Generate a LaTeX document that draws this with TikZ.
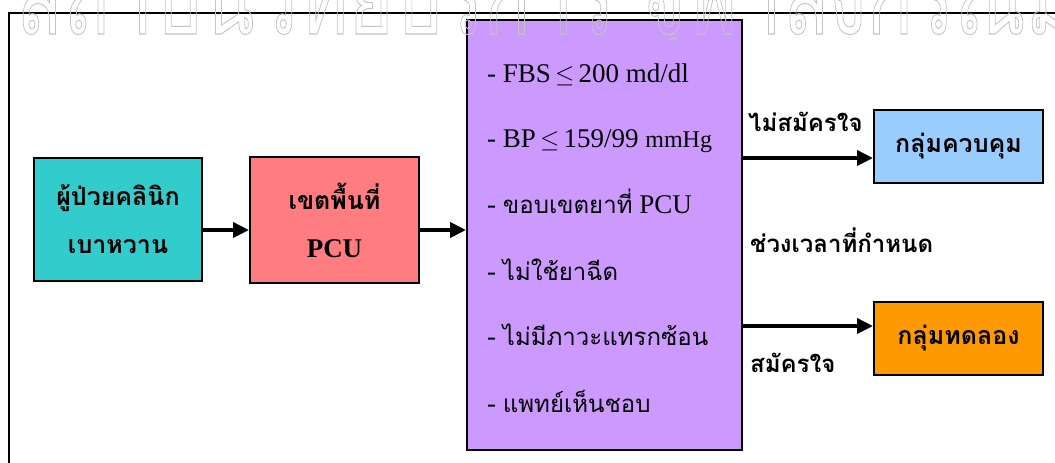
\documentclass[tikz,border=0pt]{standalone}
\usepackage{fontspec}
\setmainfont{Liberation Serif}
\newfontfamily\thai[Script=Thai]{Loma}
\usetikzlibrary{arrows.meta}
\definecolor{cteal}{HTML}{33CCCC}
\definecolor{cred}{HTML}{FF7C80}
\definecolor{cpurple}{HTML}{CC99FF}
\definecolor{cblue}{HTML}{99CCFF}
\definecolor{corange}{HTML}{FF9900}
\definecolor{wmgray}{HTML}{C4C4C4}
\begin{document}
\begin{tikzpicture}[x=1pt,y=-1pt,
  box/.style={draw=black, line width=2pt, inner sep=0pt, align=center},
  conn/.style={line width=3.8pt, -{Triangle[length=16pt,width=15pt]}},
  thb/.style={font=\thai\bfseries\fontsize{25}{48}\selectfont},
  item/.style={anchor=base west, inner sep=0pt, font=\fontsize{27}{30}\selectfont},
  lbl/.style={anchor=base west, inner sep=0pt, font=\thai\bfseries\fontsize{24}{30}\selectfont}]
\useasboundingbox (0,0) rectangle (1055,463);
% frame
\draw[line width=2pt] (9,463) -- (9,13) -- (1055,13);
% boxes
\node[box, fill=cteal, minimum width=168pt, minimum height=123pt, thb] (pat) at (118,219.5)
  {ผู้ป่วยคลินิก\\เบาหวาน};
\node[box, fill=cred, minimum width=169pt, minimum height=126pt, thb] (area) at (334.5,220)
  {เขตพื้นที่\\{\fontspec{Liberation Serif}\bfseries\fontsize{27}{48}\selectfont PCU}};
\node[box, fill=cpurple, minimum width=275pt, minimum height=430pt] (crit) at (604.5,235) {};
\node[box, fill=cblue, minimum width=169pt, minimum height=73pt, thb] (ctrl) at (958.5,146.5) {กลุ่มควบคุม};
\node[box, fill=corange, minimum width=169pt, minimum height=73pt, thb] (expt) at (958.5,338.5) {กลุ่มทดลอง};
% criteria items
\node[item] (i1) at (487,82) {- FBS$\,\leq\,$200 md/dl};
\node[item] (i2) at (487,147) {- BP$\,\leq\,$159/99 {\fontsize{24}{30}\selectfont mmHg}};
\node[item] (i3) at (487,213) {- {\thai\fontsize{24}{30}\selectfont ขอบเขตยาที่} PCU};
\node[item] (i4) at (487,280) {- {\thai\fontsize{24}{30}\selectfont ไม่ใช้ยาฉีด}};
\node[item] (i5) at (487,345) {- {\thai\fontsize{24}{30}\selectfont ไม่มีภาวะแทรกซ้อน}};
\node[item] (i6) at (487,412) {- {\thai\fontsize{24}{30}\selectfont แพทย์เห็นชอบ}};
% labels
\node[lbl] (l1) at (748,131) {ไม่สมัครใจ};
\node[lbl] (l2) at (750,252) {ช่วงเวลาที่กำหนด};
\node[lbl] (l3) at (750,372) {สมัครใจ};
% connectors
\draw[conn] ([yshift=-10.5pt]pat.east) -- ([yshift=-10.5pt]pat.east -| area.west);
\draw[conn] ([yshift=-10pt]area.east) -- ([yshift=-10pt]area.east -| crit.west);
\draw[conn] ([yshift=-11.5pt]ctrl.west -| crit.east) -- ([yshift=-11.5pt]ctrl.west);
\draw[conn] ([yshift=12.5pt]expt.west -| crit.east) -- ([yshift=12.5pt]expt.west);
% watermark (cut off at the top)
\begin{scope}
\clip (0,0) rectangle (1055,40);
\node[anchor=base west, inner sep=0pt, text=wmgray, font=\thai\fontsize{104}{110}\selectfont] (wm) at (16,34)
  {\scalebox{0.74}[1]{\special{pdf:code 1 Tr 1 w}สถาบันวิทยบริการ จุฬาลงกรณ์มหาวิทยาลัย\special{pdf:code 0 Tr}}};
\end{scope}
\end{tikzpicture}
\end{document}
